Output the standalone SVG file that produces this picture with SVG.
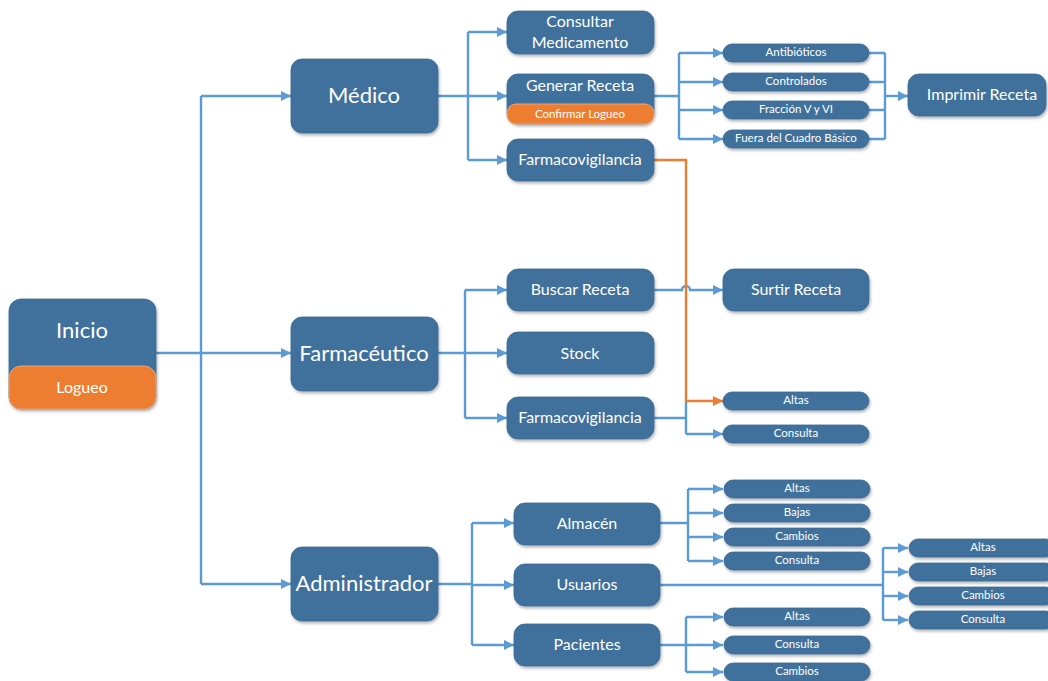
<svg xmlns="http://www.w3.org/2000/svg" width="1048" height="681" viewBox="0 0 1048 681">
<style>
.n{fill:#41719c;stroke:#3a6a94;stroke-width:0.8;filter:url(#sh)}
.o{fill:#ed7d31;stroke:#e9a67a;stroke-width:1}
.t{fill:#fff;font-family:Lato,"Open Sans",sans-serif;text-anchor:middle;dominant-baseline:central;transform:translateY(-1.5px)}
.L{font-size:22px}.M{font-size:16px}.S{font-size:11.5px}.X{font-size:12px}
.c{fill:none;stroke:#5b9bd5;stroke-width:2.4}
.co{fill:none;stroke:#ed7d31;stroke-width:2.4}
</style>
<defs>
<filter id="sh" x="-10%" y="-20%" width="120%" height="150%"><feDropShadow dx="1" dy="2" stdDeviation="1.5" flood-color="#000" flood-opacity="0.3"/></filter>
<marker id="a" viewBox="0 0 10 10" refX="10" refY="5" markerWidth="4.2" markerHeight="4.2" orient="auto" markerUnits="strokeWidth"><path d="M0,0L10,5L0,10z" fill="#5b9bd5"/></marker>
<marker id="ao" viewBox="0 0 10 10" refX="10" refY="5" markerWidth="4.2" markerHeight="4.2" orient="auto" markerUnits="strokeWidth"><path d="M0,0L10,5L0,10z" fill="#ed7d31"/></marker>
</defs>
<g id="connectors">
<path class="c" d="M156,353H201M201,96V584"/>
<path class="c" marker-end="url(#a)" d="M201,96H291"/>
<path class="c" marker-end="url(#a)" d="M201,353H291"/>
<path class="c" marker-end="url(#a)" d="M201,584H291"/>
<path class="c" d="M438,96H468M468,32V160"/>
<path class="c" marker-end="url(#a)" d="M468,32H507"/>
<path class="c" marker-end="url(#a)" d="M468,96H507"/>
<path class="c" marker-end="url(#a)" d="M468,160H507"/>
<path class="c" d="M654,96H679M679,53V139"/>
<path class="c" marker-end="url(#a)" d="M679,53H723"/>
<path class="c" marker-end="url(#a)" d="M679,82H723"/>
<path class="c" marker-end="url(#a)" d="M679,110H723"/>
<path class="c" marker-end="url(#a)" d="M679,139H723"/>
<path class="c" d="M869,53H885M869,82H885M869,110H885M869,139H885M885,53V139"/>
<path class="c" marker-end="url(#a)" d="M885,96H908"/>
<path class="c" d="M438,353H465M465,290V418"/>
<path class="c" marker-end="url(#a)" d="M465,290H507"/>
<path class="c" marker-end="url(#a)" d="M465,353H507"/>
<path class="c" marker-end="url(#a)" d="M465,418H507"/>
<path class="c" marker-end="url(#a)" d="M654,290H682A4,4 0 0 1 690,290H723"/>
<path class="c" d="M654,418H686M686,401V434"/>
<path class="c" marker-end="url(#a)" d="M686,434H723"/>
<path class="co" d="M654,160H686V401"/>
<path class="co" marker-end="url(#ao)" d="M686,401H723"/>
<path class="c" d="M438,584H472M472,523V645"/>
<path class="c" marker-end="url(#a)" d="M472,523H514"/>
<path class="c" marker-end="url(#a)" d="M472,585H514"/>
<path class="c" marker-end="url(#a)" d="M472,645H514"/>
<path class="c" d="M660,523H688M688,489V561"/>
<path class="c" marker-end="url(#a)" d="M688,489H723"/>
<path class="c" marker-end="url(#a)" d="M688,513H723"/>
<path class="c" marker-end="url(#a)" d="M688,537H723"/>
<path class="c" marker-end="url(#a)" d="M688,561H723"/>
<path class="c" d="M660,585H883M883,548V620"/>
<path class="c" marker-end="url(#a)" d="M883,548H908"/>
<path class="c" marker-end="url(#a)" d="M883,572H908"/>
<path class="c" marker-end="url(#a)" d="M883,596H908"/>
<path class="c" marker-end="url(#a)" d="M883,620H908"/>
<path class="c" d="M660,645H686M686,617V672"/>
<path class="c" marker-end="url(#a)" d="M686,617H723"/>
<path class="c" marker-end="url(#a)" d="M686,645H723"/>
<path class="c" marker-end="url(#a)" d="M686,672H723"/>
</g>
<g id="inicio"><rect class="n" x="9" y="299" width="147" height="110" rx="12"/><rect class="o" x="9" y="366" width="147" height="43" rx="12"/><text class="t L" x="82" y="331">Inicio</text><text class="t M" x="82" y="388">Logueo</text></g>
<g id="medico"><rect class="n" x="291" y="59" width="147" height="74" rx="11"/><text class="t L" x="364" y="96">Médico</text></g>
<g id="farmaceutico"><rect class="n" x="291" y="317" width="147" height="74" rx="11"/><text class="t L" x="364" y="354">Farmacéutico</text></g>
<g id="administrador"><rect class="n" x="291" y="547" width="147" height="74" rx="11"/><text class="t L" x="364" y="584">Administrador</text></g>
<g id="consultar"><rect class="n" x="507" y="11" width="147" height="43" rx="11"/><text class="t M" x="580" y="22">Consultar</text><text class="t M" x="580" y="43">Medicamento</text></g>
<g id="generar"><rect class="n" x="507" y="74" width="147" height="50" rx="11"/><rect class="o" x="507" y="104" width="147" height="20" rx="9"/><text class="t M" x="580" y="86">Generar Receta</text><text class="t S" x="580" y="114.5">Confirmar Logueo</text></g>
<g id="farmaco1"><rect class="n" x="507" y="139" width="147" height="42" rx="11"/><text class="t M" x="580" y="160">Farmacovigilancia</text></g>
<g id="antibioticos"><rect class="n" x="723" y="44" width="146" height="18" rx="9"/><text class="t S" x="796" y="53">Antibióticos</text></g>
<g id="controlados"><rect class="n" x="723" y="73" width="146" height="18" rx="9"/><text class="t S" x="796" y="82">Controlados</text></g>
<g id="fraccion"><rect class="n" x="723" y="101" width="146" height="18" rx="9"/><text class="t S" x="796" y="110">Fracción V y VI</text></g>
<g id="fuera"><rect class="n" x="723" y="130" width="146" height="18" rx="9"/><text class="t S" x="796" y="139">Fuera del Cuadro Básico</text></g>
<g id="imprimir"><rect class="n" x="908" y="74" width="138" height="42" rx="11"/><text class="t M" x="982" y="95">Imprimir Receta</text></g>
<g id="buscar"><rect class="n" x="507" y="269" width="147" height="42" rx="11"/><text class="t M" x="580" y="290">Buscar Receta</text></g>
<g id="stock"><rect class="n" x="507" y="332" width="147" height="42" rx="11"/><text class="t M" x="580" y="354">Stock</text></g>
<g id="farmaco2"><rect class="n" x="507" y="397" width="147" height="42" rx="11"/><text class="t M" x="580" y="418">Farmacovigilancia</text></g>
<g id="surtir"><rect class="n" x="723" y="269" width="146" height="42" rx="11"/><text class="t M" x="796" y="290">Surtir Receta</text></g>
<g id="f-altas"><rect class="n" x="723" y="392" width="146" height="18" rx="9"/><text class="t S" x="796" y="401">Altas</text></g>
<g id="f-consulta"><rect class="n" x="723" y="425" width="146" height="18" rx="9"/><text class="t S" x="796" y="434">Consulta</text></g>
<g id="almacen"><rect class="n" x="514" y="503" width="146" height="42" rx="11"/><text class="t M" x="587" y="524">Almacén</text></g>
<g id="usuarios"><rect class="n" x="514" y="564" width="146" height="42" rx="11"/><text class="t M" x="587" y="585">Usuarios</text></g>
<g id="pacientes"><rect class="n" x="514" y="624" width="146" height="42" rx="11"/><text class="t M" x="587" y="645">Pacientes</text></g>
<g id="a-altas"><rect class="n" x="724" y="480" width="146" height="18" rx="9"/><text class="t S" x="797" y="489">Altas</text></g>
<g id="a-bajas"><rect class="n" x="724" y="504" width="146" height="18" rx="9"/><text class="t S" x="797" y="513">Bajas</text></g>
<g id="a-cambios"><rect class="n" x="724" y="528" width="146" height="18" rx="9"/><text class="t S" x="797" y="537">Cambios</text></g>
<g id="a-consulta"><rect class="n" x="724" y="552" width="146" height="18" rx="9"/><text class="t S" x="797" y="561">Consulta</text></g>
<g id="u-altas"><rect class="n" x="909" y="539" width="146" height="18" rx="9"/><text class="t S" x="983" y="548">Altas</text></g>
<g id="u-bajas"><rect class="n" x="909" y="563" width="146" height="18" rx="9"/><text class="t S" x="983" y="572">Bajas</text></g>
<g id="u-cambios"><rect class="n" x="909" y="587" width="146" height="18" rx="9"/><text class="t S" x="983" y="596">Cambios</text></g>
<g id="u-consulta"><rect class="n" x="909" y="611" width="146" height="18" rx="9"/><text class="t S" x="983" y="620">Consulta</text></g>
<g id="p-altas"><rect class="n" x="724" y="608" width="146" height="18" rx="9"/><text class="t S" x="797" y="617">Altas</text></g>
<g id="p-consulta"><rect class="n" x="724" y="636" width="146" height="18" rx="9"/><text class="t S" x="797" y="645">Consulta</text></g>
<g id="p-cambios"><rect class="n" x="724" y="663" width="146" height="18" rx="9"/><text class="t S" x="797" y="672">Cambios</text></g>
</svg>
